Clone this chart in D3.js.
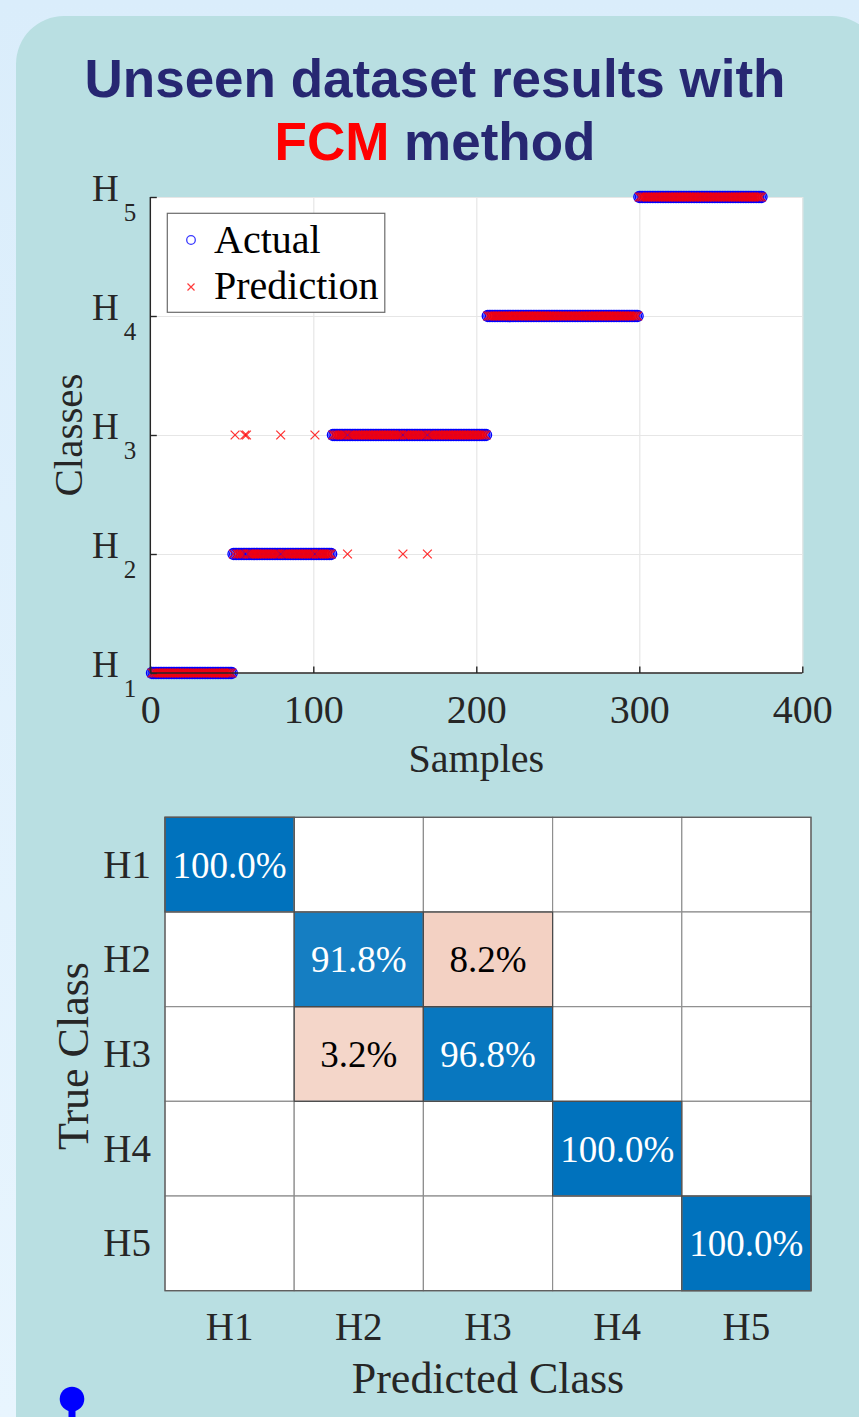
<!DOCTYPE html>
<html>
<head>
<meta charset="utf-8">
<script src="https://cdn.jsdelivr.net/npm/d3@7"></script>
<style>
  html, body { margin: 0; padding: 0; }
  svg { display: block; }
</style>
</head>
<body>
<script>
// ---- Data ----
const classes = ["H1", "H2", "H3", "H4", "H5"];
// first and last sample index of each true class, in order
const classStart = [1, 51, 112, 207, 300];
const classEnd = [50, 111, 206, 299, 375];
// samples whose predicted class differs from the true class
const missSamples = [52, 58, 59, 80, 101, 121, 155, 170];
const missPredicted = [3, 3, 3, 3, 3, 2, 2, 2];
const xTicks = [0, 100, 200, 300, 400];
const yTicks = [1, 2, 3, 4, 5];
// row-normalised confusion matrix (percent)
const confusion = [
  [100.0, 0, 0, 0, 0],
  [0, 91.8, 8.2, 0, 0],
  [0, 3.2, 96.8, 0, 0],
  [0, 0, 0, 100.0, 0],
  [0, 0, 0, 0, 100.0]
];

const W = 859, H = 1417;
const serif = "'Liberation Serif', 'Times New Roman', serif";
const sans = "'Liberation Sans', Arial, sans-serif";
const ink = "#262626";

const svg = d3.select("body").append("svg")
  .attr("width", W).attr("height", H);

// ---- Backgrounds ----
const defs = svg.append("defs");
const bg = defs.append("linearGradient").attr("id", "bgGrad")
  .attr("x1", 0).attr("y1", 0).attr("x2", 0).attr("y2", 1);
bg.append("stop").attr("offset", "0%").attr("stop-color", "#daedfb");
bg.append("stop").attr("offset", "100%").attr("stop-color", "#e8f5fe");
svg.append("rect").attr("width", W).attr("height", H).attr("fill", "url(#bgGrad)");
svg.append("rect")
  .attr("x", 16).attr("y", 16).attr("width", 864).attr("height", 1500)
  .attr("rx", 48).attr("fill", "#b9dfe2");

// ---- Title ----
svg.append("text")
  .attr("x", 435).attr("y", 97).attr("text-anchor", "middle")
  .attr("font-family", sans).attr("font-weight", "bold").attr("font-size", 53)
  .attr("fill", "#272772")
  .text("Unseen dataset results with");
const t2 = svg.append("text")
  .attr("x", 435).attr("y", 160).attr("text-anchor", "middle")
  .attr("font-family", sans).attr("font-weight", "bold").attr("font-size", 53);
t2.append("tspan").attr("fill", "#ff0000").text("FCM");
t2.append("tspan").attr("fill", "#272772").text(" method");

// ---- Scatter: actual vs predicted class per sample ----
const xS = d3.scaleLinear().domain([0, 400]).range([150.3, 802.3]);
const yS = d3.scaleLinear().domain([1, 5]).range([673, 197]);

const actual = [];
classes.forEach((c, i) => {
  for (let s = classStart[i]; s <= classEnd[i]; s++) actual.push({ sample: s, cls: i + 1 });
});
const predicted = actual.map(d => {
  const k = missSamples.indexOf(d.sample);
  return { sample: d.sample, cls: k >= 0 ? missPredicted[k] : d.cls };
});

const plot = svg.append("g");
plot.append("rect")
  .attr("x", xS(0)).attr("y", yS(5))
  .attr("width", xS(400) - xS(0)).attr("height", yS(1) - yS(5))
  .attr("fill", "#ffffff");

// grid
plot.append("g").attr("transform", `translate(0,${yS(1)})`)
  .call(d3.axisBottom(xS).tickValues(xTicks).tickSize(-(yS(1) - yS(5))).tickFormat(""))
  .call(g => g.select(".domain").remove())
  .call(g => g.selectAll("line").attr("stroke", "#e6e6e6").attr("stroke-width", 1.2));
plot.append("g").attr("transform", `translate(${xS(0)},0)`)
  .call(d3.axisLeft(yS).tickValues(yTicks).tickSize(-(xS(400) - xS(0))).tickFormat(""))
  .call(g => g.select(".domain").remove())
  .call(g => g.selectAll("line").attr("stroke", "#e6e6e6").attr("stroke-width", 1.2));

// markers
plot.append("g").selectAll("circle").data(actual).join("circle")
  .attr("cx", d => xS(d.sample)).attr("cy", d => yS(d.cls)).attr("r", 5.5)
  .attr("fill", "none").attr("stroke", "#0000ff").attr("stroke-width", 1.3);
const cross = 4.4;
plot.append("g").selectAll("path").data(predicted).join("path")
  .attr("d", d => {
    const x = xS(d.sample), y = yS(d.cls);
    return `M${x - cross},${y - cross}L${x + cross},${y + cross}M${x - cross},${y + cross}L${x + cross},${y - cross}`;
  })
  .attr("stroke", "#ff0000").attr("stroke-opacity", 0.8).attr("stroke-width", 1.3).attr("fill", "none");

// axes
const xAxis = plot.append("g").attr("transform", `translate(0,${yS(1)})`)
  .call(d3.axisBottom(xS).tickValues(xTicks).tickSize(-6.5).tickPadding(22).tickFormat(d3.format("d")));
const yAxis = plot.append("g").attr("transform", `translate(${xS(0)},0)`)
  .call(d3.axisLeft(yS).tickValues(yTicks).tickSize(-6.5).tickFormat(""));
[xAxis, yAxis].forEach(a => {
  a.select(".domain").attr("stroke", ink).attr("stroke-width", 1.4);
  a.selectAll(".tick line").attr("stroke", ink).attr("stroke-width", 1.4);
});
xAxis.selectAll(".domain").attr("d", `M${xS(0)},0H${xS(400)}`);
yAxis.selectAll(".domain").attr("d", `M0,${yS(5)}V${yS(1)}`);
xAxis.selectAll("text").attr("font-family", serif).attr("font-size", 40).attr("fill", ink);

// y tick labels with subscripts
yTicks.forEach(v => {
  const t = plot.append("text")
    .attr("x", 92).attr("y", yS(v) + 4)
    .attr("font-family", serif).attr("fill", ink);
  t.append("tspan").attr("font-size", 37).text("H");
  t.append("tspan").attr("font-size", 25).attr("dx", 5).attr("dy", 20).text(String(v));
});

// axis labels
plot.append("text")
  .attr("x", xS(200)).attr("y", 772).attr("text-anchor", "middle")
  .attr("font-family", serif).attr("font-size", 40).attr("fill", ink)
  .text("Samples");
plot.append("text")
  .attr("transform", `translate(82,${yS(3)}) rotate(-90)`)
  .attr("text-anchor", "middle")
  .attr("font-family", serif).attr("font-size", 41).attr("fill", ink)
  .text("Classes");

// legend
const lg = plot.append("g");
lg.append("rect")
  .attr("x", 167.3).attr("y", 213.3).attr("width", 217.5).attr("height", 99)
  .attr("fill", "#ffffff").attr("stroke", "#6b6b6b").attr("stroke-width", 1.2);
lg.append("circle").attr("cx", 191).attr("cy", 240).attr("r", 4.3)
  .attr("fill", "none").attr("stroke", "#3a3aff").attr("stroke-width", 1.3);
lg.append("path")
  .attr("d", `M${191 - 3.5},${287 - 3.5}L${191 + 3.5},${287 + 3.5}M${191 - 3.5},${287 + 3.5}L${191 + 3.5},${287 - 3.5}`)
  .attr("stroke", "#ff3a3a").attr("stroke-width", 1.2);
lg.append("text").attr("x", 214).attr("y", 253)
  .attr("font-family", serif).attr("font-size", 40).attr("fill", "#000")
  .text("Actual");
lg.append("text").attr("x", 214).attr("y", 299)
  .attr("font-family", serif).attr("font-size", 40).attr("fill", "#000")
  .text("Prediction");

// ---- Confusion chart ----
const cx = d3.scaleBand().domain(classes).range([165, 811]);
const cy = d3.scaleBand().domain(classes).range([817.3, 1290.7]);
const diagColor = d3.scaleLinear().domain([0, 100]).range(["#ffffff", "#0072bd"]);
const offColor = d3.scaleLinear().domain([3.2, 8.2]).range(["#f4d6c9", "#f3d1c3"]);

const cells = [];
confusion.forEach((row, i) => row.forEach((v, j) => cells.push({ r: i, c: j, v })));

const cm = svg.append("g");
cm.selectAll("rect.cell").data(cells).join("rect").attr("class", "cell")
  .attr("x", d => cx(classes[d.c])).attr("y", d => cy(classes[d.r]))
  .attr("width", cx.bandwidth()).attr("height", cy.bandwidth())
  .attr("fill", d => d.v === 0 ? "#ffffff" : (d.r === d.c ? diagColor(d.v) : offColor(d.v)))
  .attr("stroke", "#8f8f8f").attr("stroke-width", 1.2);
// darker outline on filled cells
cm.selectAll("rect.filled").data(cells.filter(d => d.v > 0)).join("rect").attr("class", "filled")
  .attr("x", d => cx(classes[d.c])).attr("y", d => cy(classes[d.r]))
  .attr("width", cx.bandwidth()).attr("height", cy.bandwidth())
  .attr("fill", "none").attr("stroke", "#4a4a4a").attr("stroke-width", 1.2);
cm.append("rect")
  .attr("x", 165).attr("y", 817.3).attr("width", 811 - 165).attr("height", 1290.7 - 817.3)
  .attr("fill", "none").attr("stroke", "#5a5a5a").attr("stroke-width", 1.2);

cm.selectAll("text.val").data(cells.filter(d => d.v > 0)).join("text").attr("class", "val")
  .attr("x", d => cx(classes[d.c]) + cx.bandwidth() / 2)
  .attr("y", d => cy(classes[d.r]) + cy.bandwidth() / 2 + 13)
  .attr("text-anchor", "middle")
  .attr("font-family", serif).attr("font-size", 37)
  .attr("fill", d => d.r === d.c ? "#ffffff" : "#000000")
  .text(d => d.v.toFixed(1) + "%");

// row / column labels
cm.selectAll("text.rowlab").data(classes).join("text").attr("class", "rowlab")
  .attr("x", 151).attr("y", d => cy(d) + cy.bandwidth() / 2 + 13)
  .attr("text-anchor", "end")
  .attr("font-family", serif).attr("font-size", 39).attr("fill", ink)
  .text(d => d);
cm.selectAll("text.collab").data(classes).join("text").attr("class", "collab")
  .attr("x", d => cx(d) + cx.bandwidth() / 2).attr("y", 1340)
  .attr("text-anchor", "middle")
  .attr("font-family", serif).attr("font-size", 39).attr("fill", ink)
  .text(d => d);
cm.append("text")
  .attr("x", 488).attr("y", 1393).attr("text-anchor", "middle")
  .attr("font-family", serif).attr("font-size", 44).attr("fill", ink)
  .text("Predicted Class");
cm.append("text")
  .attr("transform", `translate(88,1056) rotate(-90)`)
  .attr("text-anchor", "middle")
  .attr("font-family", serif).attr("font-size", 44).attr("fill", ink)
  .text("True Class");

// ---- Pin marker ----
svg.append("line")
  .attr("x1", 72).attr("x2", 72).attr("y1", 1399).attr("y2", 1417)
  .attr("stroke", "#0000ff").attr("stroke-width", 7);
svg.append("circle").attr("cx", 72).attr("cy", 1399).attr("r", 12.3).attr("fill", "#0000ff");
</script>
</body>
</html>
